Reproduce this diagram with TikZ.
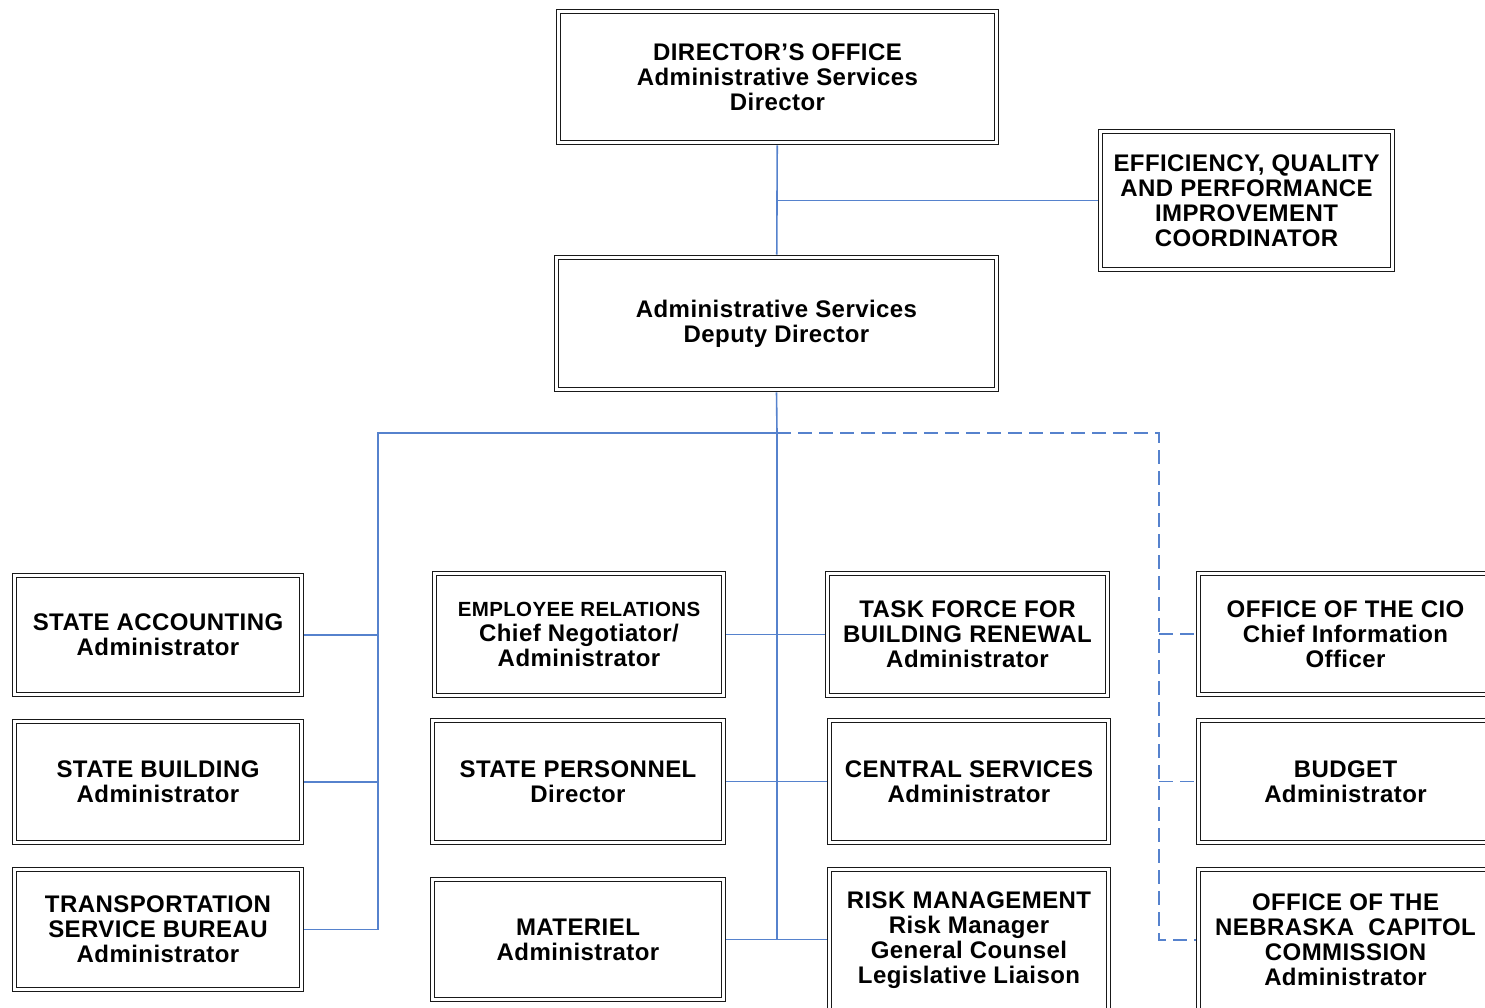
\documentclass[tikz,border=0pt]{standalone}
\usepackage{fontspec}
\setmainfont{Liberation Sans}[LetterSpace=1.8]
\definecolor{tieblue}{RGB}{86,130,205}
\tikzset{
	orgbox/.style={draw=black!90, line width=1.7pt, double, double distance=2.2pt, outer sep=2.8pt, inner sep=0pt, align=center, font=\fontsize{24}{25}\selectfont\bfseries},
	tie/.style={draw=tieblue, line width=1.6pt},
	dottie/.style={tie, dash pattern=on 14pt off 7pt}
}
\begin{document}
\begin{tikzpicture}[x=1pt,y=-1pt]

\useasboundingbox (0,0) rectangle (1485,1008);
\clip (0,0) rectangle (1485,1008);

\node[orgbox, minimum width=438pt, minimum height=131pt] (dir) at (777.5,77) {DIRECTOR’S OFFICE\\Administrative Services\\Director};
\node[orgbox, minimum width=292pt, minimum height=138pt] (eqpi) at (1246.5,200.5) {EFFICIENCY, QUALITY\\AND PERFORMANCE\\IMPROVEMENT\\COORDINATOR};
\node[orgbox, minimum width=440pt, minimum height=132pt] (dep) at (776.5,323.5) {Administrative Services\\Deputy Director};

\node[orgbox, minimum width=287pt, minimum height=119pt] (acct) at (158,635) {STATE ACCOUNTING\\Administrator};
\node[orgbox, minimum width=287pt, minimum height=121pt] (bldg) at (158,782) {STATE BUILDING\\Administrator};
\node[orgbox, minimum width=287pt, minimum height=120pt] (trans) at (158,929.5) {TRANSPORTATION\\SERVICE BUREAU\\Administrator};

\node[orgbox, minimum width=289pt, minimum height=122pt] (emp) at (579,634.5) {{\fontsize{20.5}{25}\selectfont EMPLOYEE RELATIONS}\\Chief Negotiator/\\Administrator};
\node[orgbox, minimum width=291pt, minimum height=122pt] (pers) at (578,781.5) {STATE PERSONNEL\\Director};
\node[orgbox, minimum width=291pt, minimum height=120pt] (mat) at (578,939.5) {MATERIEL\\Administrator};

\node[orgbox, minimum width=280pt, minimum height=122pt] (task) at (967.5,634.5) {TASK FORCE FOR\\BUILDING RENEWAL\\Administrator};
\node[orgbox, minimum width=279pt, minimum height=122pt] (cent) at (969,781.5) {CENTRAL SERVICES\\Administrator};
\node[orgbox, minimum width=279pt, minimum height=141pt] (risk) at (969,940) {RISK MANAGEMENT\\Risk Manager\\General Counsel\\Legislative Liaison};

\node[orgbox, minimum width=294pt, minimum height=121pt] (cio) at (1345.5,634) {OFFICE OF THE CIO\\Chief Information\\Officer};
\node[orgbox, minimum width=294pt, minimum height=122pt] (budget) at (1345.5,781.5) {BUDGET\\Administrator};
\node[orgbox, minimum width=294pt, minimum height=141pt] (ncc) at (1345.5,940) {OFFICE OF THE\\NEBRASKA\ \ CAPITOL\\COMMISSION\\Administrator};

\coordinate (hub) at (777,433);
\coordinate (lbus) at (378,433);
\coordinate (rbus) at (1159,433);

\draw[tie] (dir) -- (dep);
\draw[tie] (dir.south |- eqpi.west) -- (eqpi.west);
\draw[tie] (dep.south) -- (hub);

\draw[tie] (hub) -- (lbus) |- (trans.east);
\draw[tie] (acct.east) -- (lbus |- acct.east);
\draw[tie] (bldg.east) -- (lbus |- bldg.east);

\draw[tie] (hub) -- (hub |- mat.east);
\draw[tie] (emp.east) -- (emp.east -| task.west);
\draw[tie] (pers.east) -- (pers.east -| cent.west);
\draw[tie] (mat.east) -- (mat.east -| risk.west);

\draw[dottie] (hub) -- (rbus) |- (ncc.west);
\draw[dottie] (rbus |- cio.west) -- (cio.west);
\draw[dottie] (rbus |- budget.west) -- (budget.west);

\end{tikzpicture}
\end{document}
